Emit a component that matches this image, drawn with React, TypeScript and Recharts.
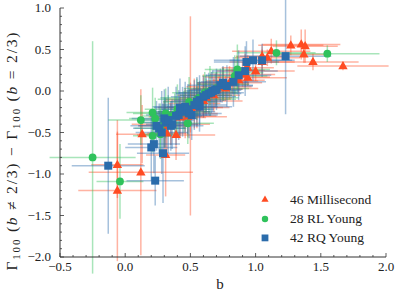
import React from 'react';
import { ScatterChart, Scatter, XAxis, YAxis, ErrorBar, Legend } from 'recharts';

const seriesNames = ['46 Millisecond', '28 RL Young', '42 RQ Young'];

const msB = [1.27,1.35,1.38,1.37,1.44,1.67,1.12,1.05,1.09,0.94,0.92,0.94,1.00,0.87,0.77,0.86,0.46,0.48,0.39,0.30,0.32,0.13,0.31,-0.06,-0.06,0.12,0.53,0.56,0.60,0.65,0.70,0.72,0.80,0.82,0.50,0.42,0.35,0.60,0.68,0.45,0.55,0.75,0.90,0.62,0.50,1.05];
const msG = [0.55,0.56,0.54,0.44,0.35,0.30,0.48,0.42,0.40,0.28,0.25,0.16,0.24,0.13,0.03,0.17,-0.27,-0.31,-0.53,-0.42,-0.51,-0.52,-0.77,-0.89,-1.20,-0.98,-0.15,-0.10,-0.05,-0.02,0.02,0.05,0.10,0.12,-0.20,-0.32,-0.40,-0.12,-0.05,-0.25,-0.20,0.08,0.20,-0.08,-0.30,0.35];
const msBErr = [0.25,0.30,0.25,0.20,0.35,0.35,0.30,0.20,0.25,0.20,0.15,0.30,0.30,0.20,0.25,0.25,0.25,0.30,0.30,0.20,0.15,0.20,0.15,0.20,0.30,0.40,0.20,0.25,0.20,0.20,0.20,0.25,0.25,0.20,0.25,0.20,0.30,0.30,0.20,0.20,0.25,0.20,0.25,0.20,0.20,0.25];
const msGErr = [0.12,0.18,0.20,0.10,0.10,0.05,0.15,0.12,0.10,0.15,0.20,0.10,0.12,0.15,0.15,0.10,0.30,0.25,0.30,0.30,0.25,0.35,0.50,0.40,0.85,1.00,0.30,0.20,0.25,0.15,0.20,0.15,0.20,0.15,0.30,0.25,0.25,0.20,0.20,0.20,0.25,0.20,0.15,0.20,1.20,0.15];

const rlB = [-0.25,-0.04,0.12,0.21,0.21,0.23,0.27,0.31,0.33,0.48,0.49,0.61,0.86,0.86,1.16,1.55,0.27,0.55,0.65,0.70,0.40,0.45,0.57,0.75,0.84,0.30,0.38,0.62];
const rlG = [-0.80,-1.09,-0.35,-0.26,-0.54,-0.33,-0.45,-0.27,-0.30,-0.39,-0.13,-0.02,0.26,0.22,0.46,0.45,-0.52,-0.10,0.00,0.03,-0.22,-0.25,-0.08,0.08,0.18,-0.38,-0.28,-0.05];
const rlBErr = [0.33,0.18,0.25,0.20,0.15,0.20,0.20,0.25,0.20,0.20,0.20,0.25,0.25,0.20,0.30,0.40,0.15,0.30,0.20,0.25,0.25,0.20,0.30,0.20,0.25,0.20,0.20,0.20];
const rlGErr = [1.40,0.45,0.30,0.30,0.20,0.25,0.30,0.30,0.25,0.25,0.30,0.25,0.30,0.20,0.15,0.10,0.30,0.25,0.30,0.20,0.30,0.25,0.20,0.20,0.25,0.30,0.25,0.20];

const rqB = [-0.13,0.23,0.20,0.22,0.29,0.30,0.31,0.24,0.35,0.36,0.41,0.42,0.46,0.51,0.57,0.57,0.60,0.64,0.67,0.70,0.73,0.75,0.83,0.87,0.93,0.98,1.05,1.23,0.39,0.44,0.48,0.53,0.55,0.62,0.66,0.69,0.26,0.33,0.49,0.78,0.92,0.28];
const rqG = [-0.90,-1.08,-0.68,-0.64,-0.75,-0.33,-0.38,-0.42,-0.42,-0.40,-0.29,-0.20,-0.19,-0.29,-0.19,-0.11,-0.07,-0.03,0.00,0.02,0.07,0.10,0.11,0.19,0.35,0.37,0.37,0.42,-0.30,-0.25,-0.22,-0.17,-0.13,-0.05,-0.02,0.01,-0.45,-0.35,-0.27,0.06,0.24,-0.50];
const rqBErr = [0.28,0.22,0.20,0.20,0.20,0.25,0.20,0.20,0.25,0.20,0.25,0.20,0.25,0.20,0.25,0.20,0.25,0.25,0.20,0.20,0.25,0.20,0.25,0.25,0.25,0.30,0.25,0.35,0.20,0.25,0.20,0.25,0.20,0.20,0.25,0.20,0.20,0.20,0.25,0.20,0.25,0.20];
const rqGErr = [0.82,0.30,0.40,0.35,0.60,0.35,0.30,0.30,0.30,0.30,0.30,0.35,0.30,0.30,0.30,0.30,0.25,0.25,0.25,0.25,0.20,0.20,0.30,0.30,0.25,0.25,0.20,0.70,0.35,0.30,0.30,0.30,0.30,0.25,0.25,0.20,0.30,0.40,0.30,0.25,0.30,0.50];

const xTicks = [-0.5,-0.4,-0.3,-0.2,-0.1,0.0,0.1,0.2,0.3,0.4,0.5,0.6,0.7,0.8,0.9,1.0,1.1,1.2,1.3,1.4,1.5,1.6,1.7,1.8,1.9,2.0];
const yTicks = [-2.0,-1.9,-1.8,-1.7,-1.6,-1.5,-1.4,-1.3,-1.2,-1.1,-1.0,-0.9,-0.8,-0.7,-0.6,-0.5,-0.4,-0.3,-0.2,-0.1,0.0,0.1,0.2,0.3,0.4,0.5,0.6,0.7,0.8,0.9,1.0];

const FONT = "'Liberation Serif', 'Times New Roman', Tinos, 'DejaVu Serif', serif";
const TXT = { fontFamily: FONT };
const AX = '#333333';
const RED = '#ff4b22';
const GREEN = '#2fc25b';
const BLUE = '#2b6cab';
const RED_E = 'rgba(255,75,34,0.42)';
const GREEN_E = 'rgba(47,194,91,0.42)';
const BLUE_E = 'rgba(43,108,171,0.42)';

const build = (b: number[], g: number[], eb: number[], eg: number[]) =>
  b.map((v, i) => ({ x: v, y: g[i], ex: eb[i], ey: eg[i] }));

const msData = build(msB, msG, msBErr, msGErr);
const rlData = build(rlB, rlG, rlBErr, rlGErr);
const rqData = build(rqB, rqG, rqBErr, rqGErr);

const isMajor = (v: number) => Math.abs(v * 2 - Math.round(v * 2)) < 1e-6;
const fmt = (v: number) => (v < -1e-9 ? '\u2212' : '') + Math.abs(v).toFixed(1);

const BottomTick = (p: any) => {
  const { x, y, payload } = p;
  const v = payload.value;
  const major = isMajor(v);
  return (
    <g>
      <line x1={x} x2={x} y1={y} y2={y - (major ? 4 : 2)} stroke={AX} strokeWidth={0.8} />
      {major && (
        <text x={x} y={y + 9.5} dy="0.33em" textAnchor="middle" fontSize={13} style={TXT} fill="#222">
          {fmt(v)}
        </text>
      )}
    </g>
  );
};
const TopTick = (p: any) => {
  const { x, y, payload } = p;
  const major = isMajor(payload.value);
  return <line x1={x} x2={x} y1={y} y2={y + (major ? 4 : 2)} stroke={AX} strokeWidth={0.8} />;
};
const LeftTick = (p: any) => {
  const { x, y, payload } = p;
  const v = payload.value;
  const major = isMajor(v);
  return (
    <g>
      <line x1={x} x2={x + (major ? 4 : 2)} y1={y} y2={y} stroke={AX} strokeWidth={0.8} />
      {major && (
        <text x={x - 9} y={y} dy="0.33em" textAnchor="end" fontSize={13} style={TXT} fill="#222">
          {fmt(v)}
        </text>
      )}
    </g>
  );
};
const RightTick = (p: any) => {
  const { x, y, payload } = p;
  const major = isMajor(payload.value);
  return <line x1={x} x2={x - (major ? 4 : 2)} y1={y} y2={y} stroke={AX} strokeWidth={0.8} />;
};

const triPts = (cx: number, cy: number, s: number) =>
  `${cx},${cy - s * 1.1} ${cx - s},${cy + s * 0.65} ${cx + s},${cy + s * 0.65}`;

const Tri = (p: any) => (p.cx == null ? null : <polygon points={triPts(p.cx, p.cy, 4.7)} fill={RED} />);
const Circ = (p: any) => (p.cx == null ? null : <circle cx={p.cx} cy={p.cy} r={3.9} fill={GREEN} />);
const Sq = (p: any) => (p.cx == null ? null : <rect x={p.cx - 4} y={p.cy - 4} width={8} height={8} fill={BLUE} />);

const YLabel = (p: any) => {
  const vb = p.viewBox || { x: 0, y: 8, width: 60, height: 249 };
  const cx = 12;
  const cy = vb.y + vb.height / 2 + 19;
  return (
    <text
      transform={`rotate(-90 ${cx} ${cy})`}
      x={cx}
      y={cy + 5}
      textAnchor="middle"
      fontSize={15.5}
      style={TXT}
      fill="#222"
      textLength={238}
      lengthAdjust="spacing"
    >
      <tspan>Γ</tspan>
      <tspan fontSize={11} dy={3}>100</tspan>
      <tspan dy={-3}> (</tspan>
      <tspan fontStyle="italic">b</tspan>
      <tspan> ≠ 2/3) − Γ</tspan>
      <tspan fontSize={11} dy={3}>100</tspan>
      <tspan dy={-3}> (</tspan>
      <tspan fontStyle="italic">b</tspan>
      <tspan> = 2/3)</tspan>
    </text>
  );
};

const XLabel = (p: any) => {
  const vb = p.viewBox || { x: 60, y: 257, width: 326, height: 38 };
  return (
    <text x={vb.x + vb.width / 2 - 3} y={vb.y + 27} dy="0.33em" textAnchor="middle" fontSize={15} style={TXT} fill="#222">
      b
    </text>
  );
};

const LegendContent = () => (
  <svg width={140} height={62} style={{ display: 'block' }}>
    <polygon points={triPts(10, 10.5, 3.6)} fill={RED} />
    <circle cx={10} cy={30} r={3.2} fill={GREEN} />
    <rect x={6.6} y={45.5} width={6.8} height={6.8} fill={BLUE} />
    {seriesNames.map((n, i) => (
      <text key={n} x={35} y={[10.3, 30, 48.7][i]} dy="0.33em" fontSize={13.5} style={TXT} fill="#222">
        {n}
      </text>
    ))}
  </svg>
);

export default function App() {
  return (
    <div style={{ position: 'absolute', left: 0, top: 0, background: '#fff', fontFamily: FONT }}>
      <ScatterChart width={398} height={295} margin={{ top: 8, right: 12, bottom: 0, left: 0 }}>
        <XAxis
          dataKey="x"
          type="number"
          domain={[-0.5, 2.0]}
          allowDataOverflow
          ticks={xTicks}
          interval={0}
          tickSize={0}
          tickMargin={0}
          tickLine={false}
          tick={BottomTick}
          height={38}
          axisLine={{ stroke: AX, strokeWidth: 1 }}
          label={<XLabel />}
        />
        <XAxis
          xAxisId="top"
          orientation="top"
          type="number"
          domain={[-0.5, 2.0]}
          allowDataOverflow
          ticks={xTicks}
          interval={0}
          tickSize={0}
          tickMargin={0}
          tickLine={false}
          tick={TopTick}
          height={0}
          axisLine={{ stroke: AX, strokeWidth: 1 }}
        />
        <YAxis
          dataKey="y"
          type="number"
          domain={[-2.0, 1.0]}
          allowDataOverflow
          ticks={yTicks}
          interval={0}
          tickSize={0}
          tickMargin={0}
          tickLine={false}
          tick={LeftTick}
          width={60}
          axisLine={{ stroke: AX, strokeWidth: 1 }}
          label={<YLabel />}
        />
        <YAxis
          yAxisId="right"
          orientation="right"
          type="number"
          domain={[-2.0, 1.0]}
          allowDataOverflow
          ticks={yTicks}
          interval={0}
          tickSize={0}
          tickMargin={0}
          tickLine={false}
          tick={RightTick}
          width={0}
          axisLine={{ stroke: AX, strokeWidth: 1 }}
        />
        <Scatter name={seriesNames[0]} data={msData} shape={Tri} isAnimationActive={false}>
          <ErrorBar dataKey="ex" direction="x" width={0} stroke={RED_E} strokeWidth={1.5} isAnimationActive={false} />
          <ErrorBar dataKey="ey" direction="y" width={0} stroke={RED_E} strokeWidth={1.5} isAnimationActive={false} />
        </Scatter>
        <Scatter name={seriesNames[1]} data={rlData} shape={Circ} isAnimationActive={false}>
          <ErrorBar dataKey="ex" direction="x" width={0} stroke={GREEN_E} strokeWidth={1.5} isAnimationActive={false} />
          <ErrorBar dataKey="ey" direction="y" width={0} stroke={GREEN_E} strokeWidth={1.5} isAnimationActive={false} />
        </Scatter>
        <Scatter name={seriesNames[2]} data={rqData} shape={Sq} isAnimationActive={false}>
          <ErrorBar dataKey="ex" direction="x" width={0} stroke={BLUE_E} strokeWidth={1.5} isAnimationActive={false} />
          <ErrorBar dataKey="ey" direction="y" width={0} stroke={BLUE_E} strokeWidth={1.5} isAnimationActive={false} />
        </Scatter>
        <Legend
          layout="vertical"
          align="center"
          verticalAlign="middle"
          content={LegendContent}
          wrapperStyle={{ left: 255, top: 189, width: 140, height: 62 }}
        />
      </ScatterChart>
    </div>
  );
}
